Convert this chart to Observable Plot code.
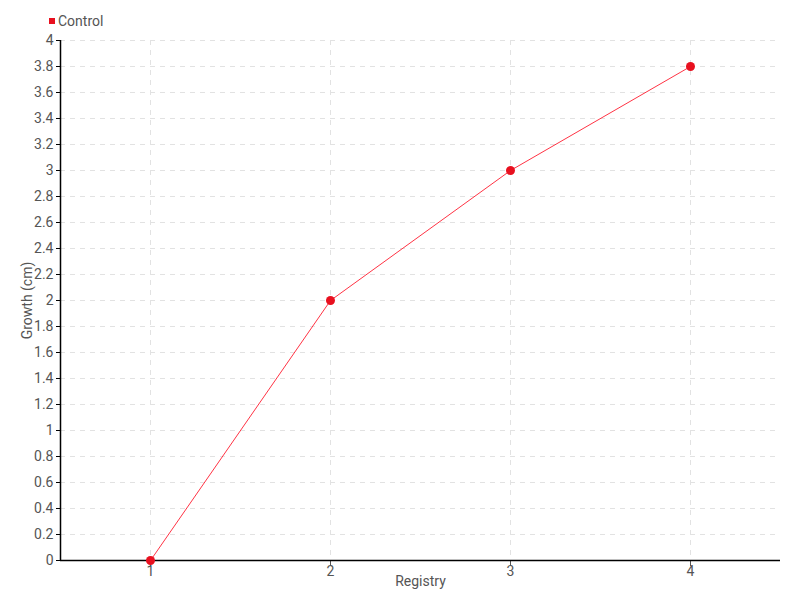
<!DOCTYPE html>
<html>
<head>
<meta charset="utf-8">
<script src="https://cdn.jsdelivr.net/npm/d3@7"></script>
<script src="https://cdn.jsdelivr.net/npm/@observablehq/plot@0.6"></script>
<style>
  body { margin: 0; background: #fff; }
  #wrap { position: relative; width: 800px; height: 600px; font-family: Roboto, "DejaVu Sans", sans-serif; }
  #legend { position: absolute; left: 49px; top: 13px; font-size: 14px; color: #555; display: flex; align-items: center; }
  #legend .sw { width: 6px; height: 6px; background: #e8101f; margin-right: 3px; }
</style>
</head>
<body>
<div id="wrap">
  <div id="legend"><span class="sw"></span><span>Control</span></div>
</div>
<script>
const seriesName = "Control";
const registry = [1, 2, 3, 4];
const growth = [0, 2, 3, 3.8];
const xTicks = [1, 2, 3, 4];
const yTicks = [0, 0.2, 0.4, 0.6, 0.8, 1, 1.2, 1.4, 1.6, 1.8, 2, 2.2, 2.4, 2.6, 2.8, 3, 3.2, 3.4, 3.6, 3.8, 4];

const data = registry.map((r, i) => ({ registry: r, growth: growth[i] }));
const fmt = d => String(d);

const chart = Plot.plot({
  width: 800,
  height: 600,
  marginTop: 40,
  marginLeft: 60,
  marginRight: 20,
  marginBottom: 40,
  style: { fontFamily: "Roboto, \"DejaVu Sans\", sans-serif", fontSize: "14px", color: "#555", background: "#fff" },
  x: { domain: [0.5, 4.5] },
  y: { domain: [0, 4] },
  marks: [
    Plot.ruleY(yTicks.filter(d => d > 0), { stroke: "#e2e2e2", strokeDasharray: "5,5", strokeOpacity: 1 }),
    Plot.ruleX(xTicks, { stroke: "#e2e2e2", strokeDasharray: "5,5", strokeOpacity: 1 }),
    Plot.axisY({ ticks: yTicks, tickFormat: fmt, tickSize: 4, tickPadding: 3, label: "Growth (cm)", labelAnchor: "center", labelOffset: 38, labelArrow: "none", stroke: "#000", color: "#555", fontSize: 14 }),
    Plot.axisX({ ticks: xTicks, tickFormat: fmt, tickSize: 6, tickPadding: 0, label: "Registry", labelAnchor: "center", labelOffset: 25, labelArrow: "none", stroke: "#555", color: "#555", fontSize: 14 }),
    Plot.ruleY([0], { stroke: "#000", strokeWidth: 1.5 }),
    Plot.ruleX([0.5], { stroke: "#000", strokeWidth: 1.5 }),
    Plot.line(data, { x: "registry", y: "growth", stroke: "#ff3344", strokeWidth: 1 }),
    Plot.dot(data, { x: "registry", y: "growth", r: 4.5, fill: "#e8101f", stroke: "none" })
  ]
});
document.getElementById("wrap").prepend(chart);
</script>
</body>
</html>
